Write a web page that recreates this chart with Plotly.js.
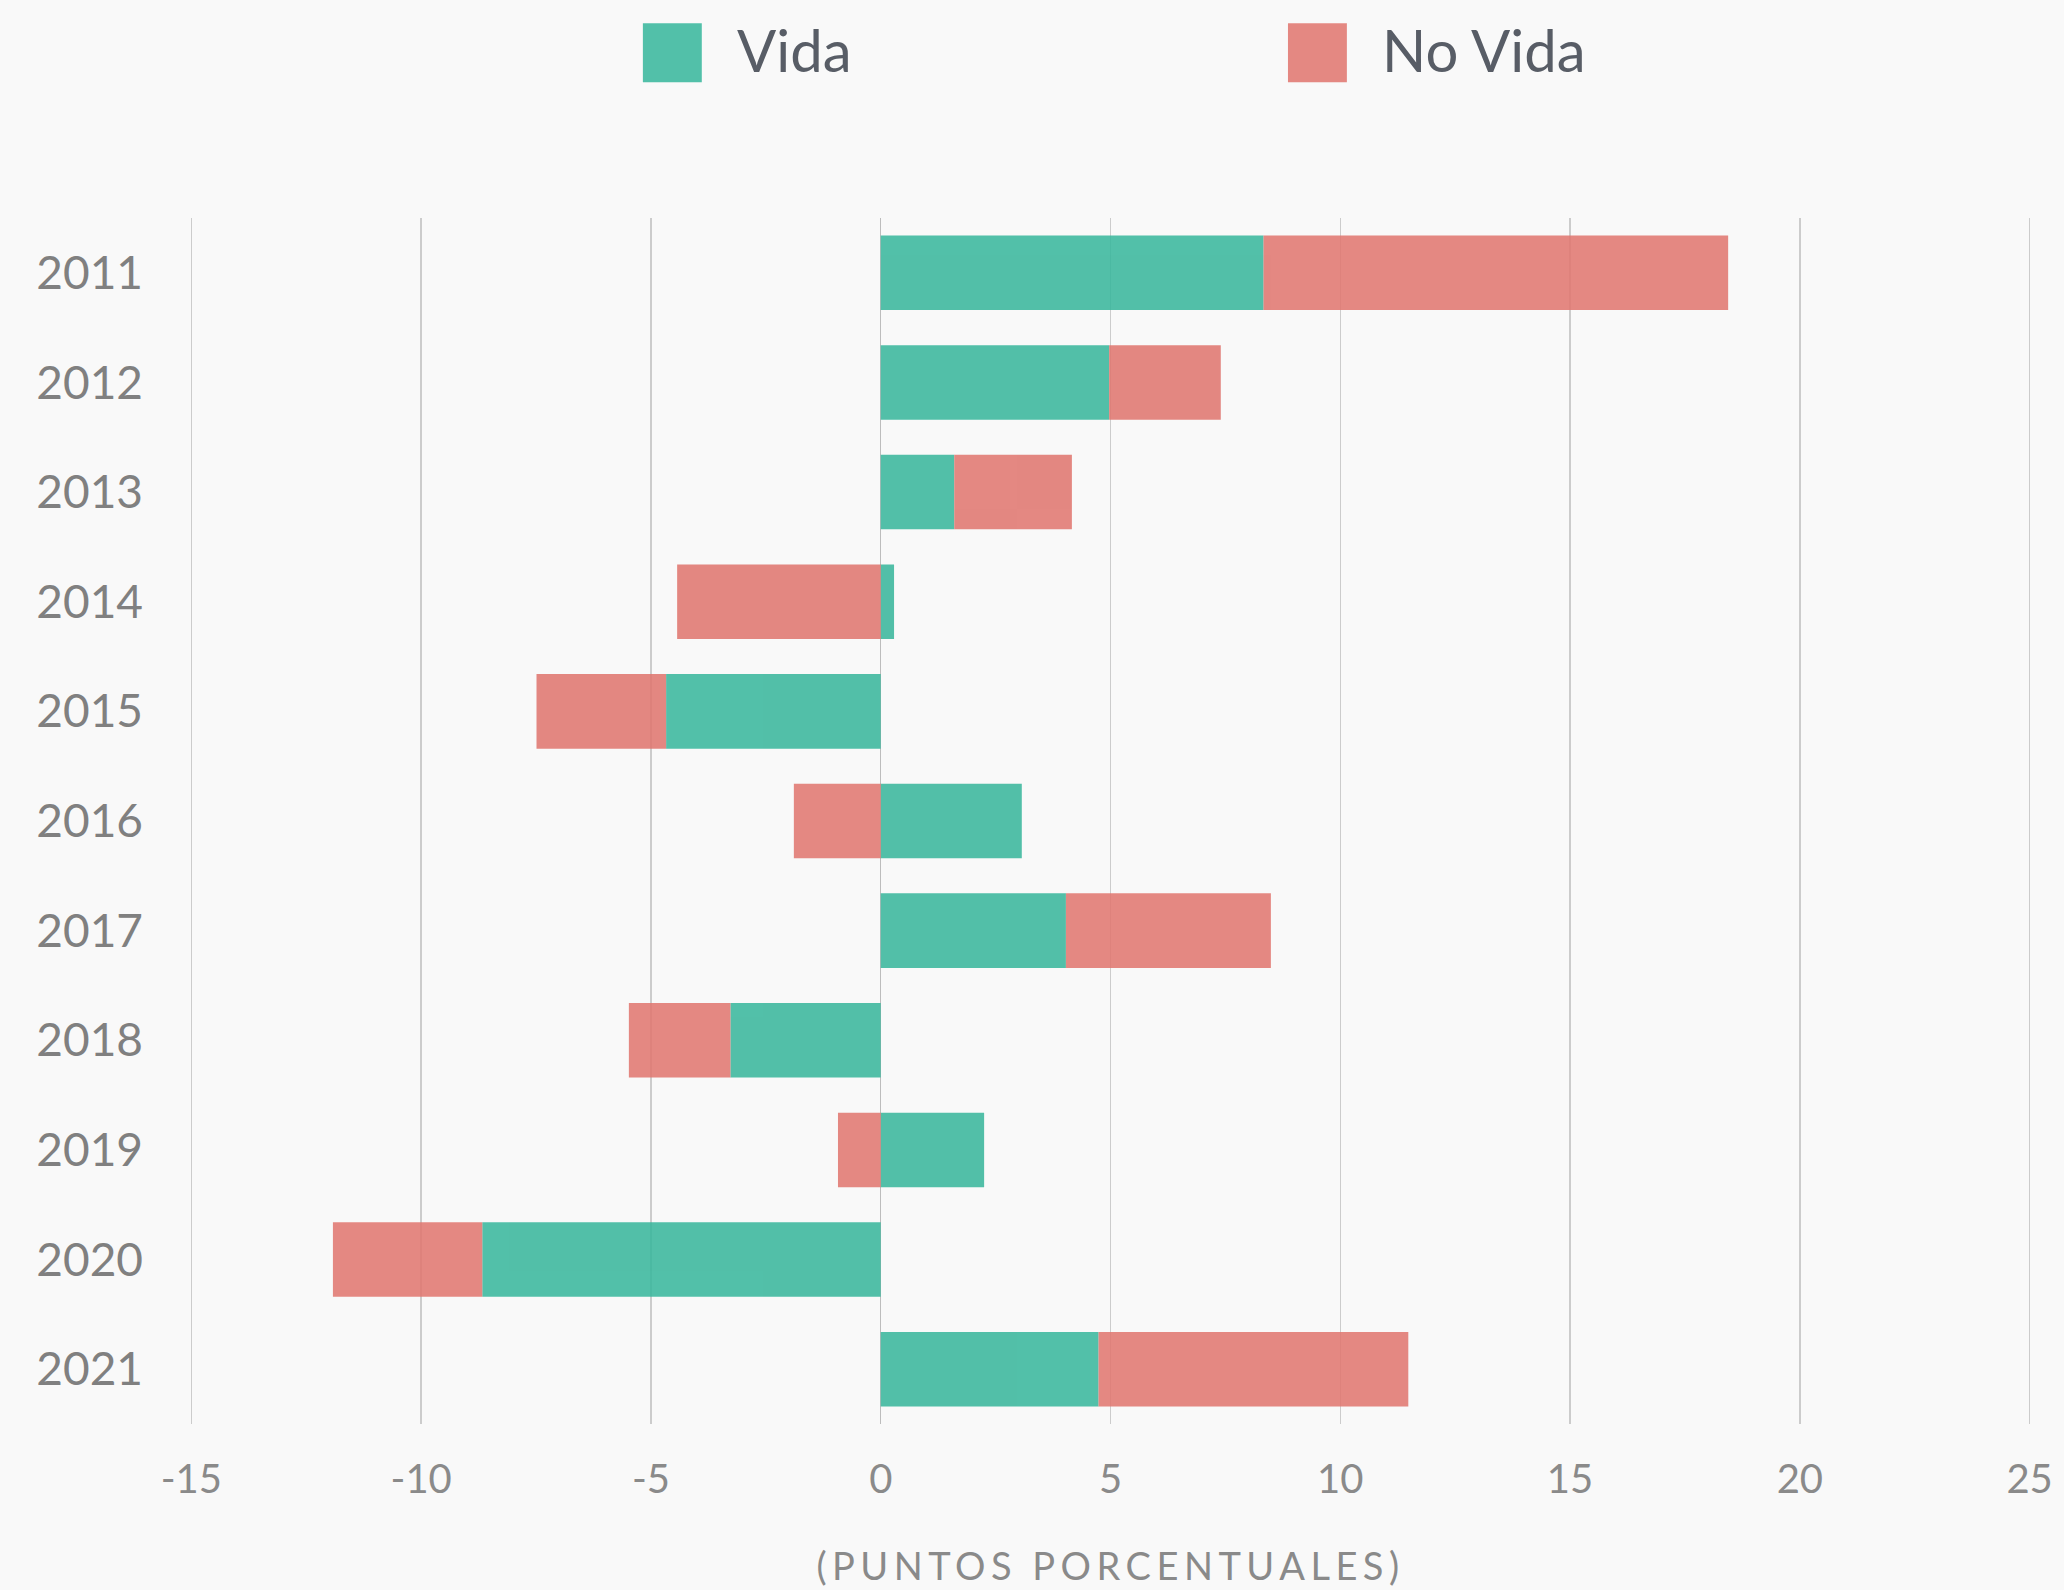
<!DOCTYPE html>
<html>
<head>
<meta charset="utf-8">
<script src="https://cdn.plot.ly/plotly-3.0.1.min.js"></script>
<style>
html,body{margin:0;padding:0;background:#f9f9f9;}
#chart{width:2064px;height:1590px;}
</style>
</head>
<body>
<div id="chart"></div>
<script>
const years = ["2011","2012","2013","2014","2015","2016","2017","2018","2019","2020","2021"];
const seriesNames = ["Vida","No Vida"];
const vida = [8.33, 4.97, 1.60, 0.29, -4.67, 3.07, 4.03, -3.27, 2.25, -8.67, 4.74];
const noVida = [10.11, 2.43, 2.56, -4.43, -2.82, -1.89, 4.46, -2.21, -0.93, -3.25, 6.74];
const xTicks = [-15, -10, -5, 0, 5, 10, 15, 20, 25];
const xTitle = "(PUNTOS PORCENTUALES)";

const colors = ["rgb(53,182,155)", "rgb(224,116,109)"];
const FONT = "Lato, 'Open Sans', sans-serif";

const traces = [vida, noVida].map((vals, i) => ({
  type: "bar",
  orientation: "h",
  name: seriesNames[i],
  y: years,
  x: vals,
  opacity: 0.85,
  marker: {color: colors[i], line: {width: 0}},
  showlegend: false,
  hoverinfo: "x+y+name"
}));

// custom large legend (swatches + labels) in paper coords
const legendX = [0.246, 0.5964];
const shapes = [];
const annotations = [];
seriesNames.forEach((n, i) => {
  shapes.push({type: "rect", xref: "paper", yref: "paper",
    x0: legendX[i], x1: legendX[i] + 0.032, y0: 1.1125, y1: 1.1615,
    fillcolor: colors[i], opacity: 0.85, line: {width: 0}});
  annotations.push({xref: "paper", yref: "paper", x: legendX[i] + 0.050, y: 1.1395,
    xanchor: "left", yanchor: "middle", showarrow: false, text: n,
    font: {family: FONT, size: 58, color: "#585d66"}});
});

const layout = {
  width: 2064, height: 1590,
  paper_bgcolor: "#f9f9f9", plot_bgcolor: "#f9f9f9",
  margin: {l: 190, r: 33, t: 218, b: 166, pad: 0},
  barmode: "relative",
  bargap: 0.32,
  font: {family: FONT},
  xaxis: {
    range: [-15.03, 25.03], tickvals: xTicks, ticktext: xTicks.map(String),
    showgrid: true, gridcolor: "#cccccc", gridwidth: 1.5,
    zeroline: true, zerolinecolor: "#bdbdbd", zerolinewidth: 1.5,
    showline: false, ticks: "", ticklabelstandoff: 28,
    tickfont: {family: FONT, size: 40, color: "#8a8a8a"},
    title: {text: xTitle, standoff: 52, font: {family: FONT, size: 38, color: "#8a8a8a"}},
    fixedrange: true
  },
  yaxis: {
    type: "category", autorange: "reversed",
    showgrid: false, zeroline: false, showline: false, ticks: "",
    ticklabelstandoff: 46,
    tickfont: {family: FONT, size: 46, color: "#808080"},
    fixedrange: true
  },
  shapes: shapes,
  annotations: annotations
};

Plotly.newPlot("chart", traces, layout, {displayModeBar: false, staticPlot: true}).then(() => {
  const t = document.querySelector(".xtitle");
  if (t) t.style.letterSpacing = "5.5px";
});
</script>
</body>
</html>
